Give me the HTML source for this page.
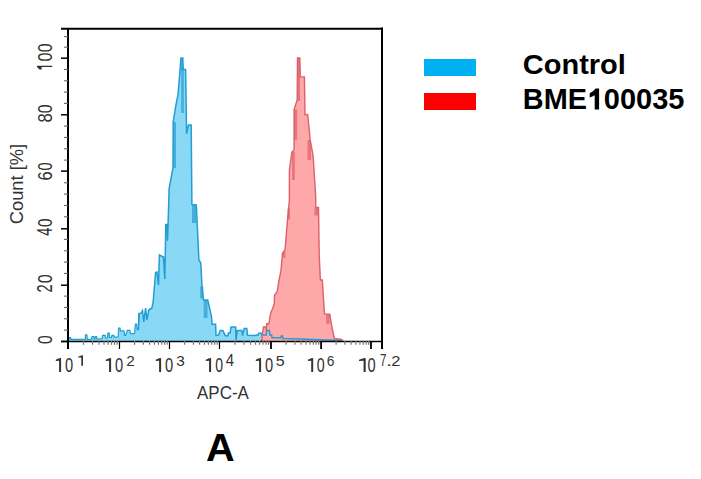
<!DOCTYPE html>
<html><head><meta charset="utf-8"><style>
html,body{margin:0;padding:0;background:#fff;width:701px;height:479px;overflow:hidden;position:relative;font-family:"Liberation Sans",sans-serif}
</style></head><body>
<svg width="701" height="479" viewBox="0 0 701 479" style="position:absolute;left:0;top:0"><rect width="701" height="479" fill="#fff"/><polygon points="68.50,341.00 68.50,339.50 69.20,339.30 69.60,337.70 70.60,337.70 71.00,339.40 85.20,339.40 85.60,334.80 86.90,334.80 87.30,339.30 91.60,339.20 92.00,336.50 93.80,336.50 94.20,339.00 95.00,339.00 95.40,336.50 96.60,336.50 97.00,339.00 102.20,338.50 102.60,335.40 105.20,335.40 105.60,338.00 107.50,338.00 107.90,333.10 109.20,333.10 109.60,337.50 111.50,337.50 111.90,335.40 113.80,335.40 114.20,337.10 118.20,337.00 118.60,328.00 120.00,328.00 120.40,330.80 124.00,330.80 124.60,335.40 125.60,335.40 127.40,330.30 129.80,330.30 130.60,333.70 134.50,333.70 135.40,324.00 136.60,324.00 137.20,329.70 138.40,329.70 139.00,313.50 139.60,313.70 141.30,313.00 142.50,310.60 143.75,322.00 145.60,308.00 146.90,320.00 148.75,310.00 151.90,308.00 153.10,302.50 155.60,272.50 156.90,272.00 158.50,285.00 159.40,255.00 163.50,257.00 164.80,279.00 165.80,224.40 167.00,224.40 167.50,241.00 168.75,202.50 169.10,188.75 170.25,182.50 173.00,168.00 173.20,122.00 175.60,107.00 176.90,100.00 178.00,95.00 181.00,58.00 182.80,58.00 183.20,69.40 185.60,69.40 186.60,133.70 188.50,125.00 191.20,125.00 191.90,204.40 196.30,205.00 198.90,260.00 200.80,263.00 202.00,286.70 203.50,300.00 207.70,300.00 211.50,316.70 212.00,324.30 215.60,324.30 216.00,335.30 218.60,335.00 220.30,330.50 222.80,330.50 224.10,333.10 225.40,335.70 228.00,335.70 228.40,333.10 230.10,333.10 231.00,327.00 235.70,327.00 236.00,340.00 237.40,330.50 241.70,330.50 242.50,335.70 244.20,328.40 246.80,328.40 247.50,335.30 255.00,335.50 256.30,335.00 258.20,335.00 258.60,333.20 261.70,333.20 262.20,335.00 266.30,335.00 266.70,330.50 269.40,330.50 269.80,335.00 271.60,335.00 272.00,337.70 280.80,337.70 281.20,335.90 282.40,335.90 282.80,338.50 300.00,339.00 341.00,340.50 341.00,341.00" fill="#89d9f6"/><polygon points="261.80,341.00 261.80,341.00 262.20,334.00 263.10,329.60 263.50,327.00 265.80,327.00 266.20,330.50 266.70,323.80 268.90,323.80 270.70,312.60 272.50,309.00 274.30,303.60 274.60,295.00 277.20,291.80 278.80,281.30 280.90,270.90 281.90,260.40 282.50,253.10 285.00,250.00 287.50,220.00 289.40,200.00 289.40,170.00 291.90,152.00 294.10,150.00 294.10,109.40 297.20,100.00 297.50,58.00 299.80,58.00 300.30,76.90 304.40,76.90 305.00,114.60 307.70,114.60 310.30,140.70 313.10,155.60 315.60,195.00 315.80,207.50 318.50,207.50 319.20,255.00 320.40,280.00 322.30,280.00 324.20,310.00 324.60,314.10 329.70,314.10 332.50,330.00 334.40,338.50 341.50,339.40 343.00,341.00 343.00,341.00" fill="#ffa8aa"/><polyline points="68.50,339.50 69.20,339.30 69.60,337.70 70.60,337.70 71.00,339.40 85.20,339.40 85.60,334.80 86.90,334.80 87.30,339.30 91.60,339.20 92.00,336.50 93.80,336.50 94.20,339.00 95.00,339.00 95.40,336.50 96.60,336.50 97.00,339.00 102.20,338.50 102.60,335.40 105.20,335.40 105.60,338.00 107.50,338.00 107.90,333.10 109.20,333.10 109.60,337.50 111.50,337.50 111.90,335.40 113.80,335.40 114.20,337.10 118.20,337.00 118.60,328.00 120.00,328.00 120.40,330.80 124.00,330.80 124.60,335.40 125.60,335.40 127.40,330.30 129.80,330.30 130.60,333.70 134.50,333.70 135.40,324.00 136.60,324.00 137.20,329.70 138.40,329.70 139.00,313.50" fill="none" stroke="#239dd2" stroke-width="1.2"/><polyline points="138.40,329.70 139.00,313.50 139.60,313.70 141.30,313.00 142.50,310.60 143.75,322.00 145.60,308.00 146.90,320.00 148.75,310.00 151.90,308.00 153.10,302.50 155.60,272.50 156.90,272.00 158.50,285.00 159.40,255.00 163.50,257.00 164.80,279.00 165.80,224.40 167.00,224.40 167.50,241.00 168.75,202.50 169.10,188.75 170.25,182.50 173.00,168.00 173.20,122.00 175.60,107.00 176.90,100.00 178.00,95.00 181.00,58.00 182.80,58.00 183.20,69.40 185.60,69.40 186.60,133.70 188.50,125.00 191.20,125.00 191.90,204.40 196.30,205.00 198.90,260.00 200.80,263.00 202.00,286.70 203.50,300.00 207.70,300.00 211.50,316.70 212.00,324.30 215.60,324.30 216.00,335.30 218.60,335.00 220.30,330.50 222.80,330.50 224.10,333.10 225.40,335.70 228.00,335.70 228.40,333.10 230.10,333.10 231.00,327.00 235.70,327.00 236.00,340.00 237.40,330.50 241.70,330.50 242.50,335.70 244.20,328.40 246.80,328.40 247.50,335.30 255.00,335.50 256.30,335.00 258.20,335.00 258.60,333.20 261.70,333.20 262.20,335.00 266.30,335.00 266.70,330.50 269.40,330.50 269.80,335.00 271.60,335.00 272.00,337.70 280.80,337.70 281.20,335.90 282.40,335.90 282.80,338.50 300.00,339.00 341.00,340.50" fill="none" stroke="#239dd2" stroke-width="1.5"/><polyline points="261.80,341.00 262.20,334.00 263.10,329.60 263.50,327.00 265.80,327.00 266.20,330.50 266.70,323.80 268.90,323.80 270.70,312.60 272.50,309.00 274.30,303.60 274.60,295.00 277.20,291.80 278.80,281.30 280.90,270.90 281.90,260.40 282.50,253.10 285.00,250.00 287.50,220.00 289.40,200.00 289.40,170.00 291.90,152.00 294.10,150.00 294.10,109.40 297.20,100.00 297.50,58.00 299.80,58.00 300.30,76.90 304.40,76.90 305.00,114.60 307.70,114.60 310.30,140.70 313.10,155.60 315.60,195.00 315.80,207.50 318.50,207.50 319.20,255.00 320.40,280.00 322.30,280.00 324.20,310.00 324.60,314.10 329.70,314.10 332.50,330.00 334.40,338.50 341.50,339.40 343.00,341.00" fill="none" stroke="#dc5f69" stroke-width="1.4"/><rect x="181.2" y="69" width="2.6" height="44" fill="#239dd2" fill-opacity="0.7"/><rect x="173" y="122" width="3" height="46" fill="#239dd2" fill-opacity="0.7"/><rect x="192" y="205" width="4.3" height="18" fill="#239dd2" fill-opacity="0.7"/><rect x="200.2" y="286.7" width="3.2" height="11.7" fill="#239dd2" fill-opacity="0.7"/><rect x="203.7" y="300" width="3.8" height="18" fill="#239dd2" fill-opacity="0.7"/><rect x="180.8" y="58" width="2.2" height="12" fill="#239dd2" fill-opacity="0.7"/><rect x="294.2" y="109.4" width="3" height="30.3" fill="#d95a64" fill-opacity="0.65"/><rect x="292" y="152" width="2.8" height="28" fill="#d95a64" fill-opacity="0.65"/><rect x="307.5" y="140" width="3.5" height="20" fill="#d95a64" fill-opacity="0.65"/><rect x="314.5" y="207.5" width="3.5" height="8" fill="#d95a64" fill-opacity="0.65"/><rect x="326.2" y="314" width="3.4" height="10" fill="#d95a64" fill-opacity="0.65"/><rect x="283" y="252" width="2.5" height="6" fill="#d95a64" fill-opacity="0.65"/><rect x="287.5" y="208.7" width="2.5" height="10.7" fill="#d95a64" fill-opacity="0.65"/><rect x="297.6" y="58" width="2.4" height="43" fill="#d95a64" fill-opacity="0.65"/><g stroke="#000" fill="none"><line x1="61" y1="28.8" x2="383" y2="28.8" stroke-width="2"/><line x1="382" y1="27.5" x2="382" y2="349" stroke-width="2"/><line x1="68" y1="28" x2="68" y2="349" stroke-width="2"/><line x1="61" y1="341.5" x2="382" y2="341.5" stroke-width="1.3"/><line x1="61" y1="341.45" x2="68" y2="341.45" stroke-width="1.5"/><line x1="64" y1="330.12" x2="68" y2="330.12" stroke-width="1.1" stroke="#666"/><line x1="64" y1="318.78" x2="68" y2="318.78" stroke-width="1.1" stroke="#666"/><line x1="64" y1="307.45" x2="68" y2="307.45" stroke-width="1.1" stroke="#666"/><line x1="64" y1="296.11" x2="68" y2="296.11" stroke-width="1.1" stroke="#666"/><line x1="61" y1="285.20" x2="68" y2="285.20" stroke-width="1.5"/><line x1="64" y1="273.45" x2="68" y2="273.45" stroke-width="1.1" stroke="#666"/><line x1="64" y1="262.11" x2="68" y2="262.11" stroke-width="1.1" stroke="#666"/><line x1="64" y1="250.78" x2="68" y2="250.78" stroke-width="1.1" stroke="#666"/><line x1="64" y1="239.44" x2="68" y2="239.44" stroke-width="1.1" stroke="#666"/><line x1="61" y1="228.80" x2="68" y2="228.80" stroke-width="1.5"/><line x1="64" y1="216.78" x2="68" y2="216.78" stroke-width="1.1" stroke="#666"/><line x1="64" y1="205.44" x2="68" y2="205.44" stroke-width="1.1" stroke="#666"/><line x1="64" y1="194.11" x2="68" y2="194.11" stroke-width="1.1" stroke="#666"/><line x1="64" y1="182.77" x2="68" y2="182.77" stroke-width="1.1" stroke="#666"/><line x1="61" y1="171.10" x2="68" y2="171.10" stroke-width="1.5"/><line x1="64" y1="160.11" x2="68" y2="160.11" stroke-width="1.1" stroke="#666"/><line x1="64" y1="148.77" x2="68" y2="148.77" stroke-width="1.1" stroke="#666"/><line x1="64" y1="137.44" x2="68" y2="137.44" stroke-width="1.1" stroke="#666"/><line x1="64" y1="126.10" x2="68" y2="126.10" stroke-width="1.1" stroke="#666"/><line x1="61" y1="114.80" x2="68" y2="114.80" stroke-width="1.5"/><line x1="64" y1="103.44" x2="68" y2="103.44" stroke-width="1.1" stroke="#666"/><line x1="64" y1="92.10" x2="68" y2="92.10" stroke-width="1.1" stroke="#666"/><line x1="64" y1="80.77" x2="68" y2="80.77" stroke-width="1.1" stroke="#666"/><line x1="64" y1="69.43" x2="68" y2="69.43" stroke-width="1.1" stroke="#666"/><line x1="61" y1="58.20" x2="68" y2="58.20" stroke-width="1.5"/><line x1="64" y1="47.20" x2="68" y2="47.20" stroke-width="1.1" stroke="#666"/><line x1="64" y1="36.60" x2="68" y2="36.60" stroke-width="1.1" stroke="#666"/><line x1="68.00" y1="341" x2="68.00" y2="349" stroke-width="2"/><line x1="83.50" y1="341" x2="83.50" y2="344.8" stroke-width="1.2" stroke="#777"/><line x1="92.57" y1="341" x2="92.57" y2="344.8" stroke-width="1.2" stroke="#777"/><line x1="99.01" y1="341" x2="99.01" y2="344.8" stroke-width="1.2" stroke="#777"/><line x1="104.00" y1="341" x2="104.00" y2="344.8" stroke-width="1.2" stroke="#777"/><line x1="108.07" y1="341" x2="108.07" y2="344.8" stroke-width="1.2" stroke="#777"/><line x1="111.52" y1="341" x2="111.52" y2="344.8" stroke-width="1.2" stroke="#777"/><line x1="114.51" y1="341" x2="114.51" y2="344.8" stroke-width="1.2" stroke="#777"/><line x1="117.14" y1="341" x2="117.14" y2="344.8" stroke-width="1.2" stroke="#777"/><line x1="119.50" y1="341" x2="119.50" y2="349" stroke-width="1.2"/><line x1="134.55" y1="341" x2="134.55" y2="344.8" stroke-width="1.2" stroke="#777"/><line x1="143.36" y1="341" x2="143.36" y2="344.8" stroke-width="1.2" stroke="#777"/><line x1="149.60" y1="341" x2="149.60" y2="344.8" stroke-width="1.2" stroke="#777"/><line x1="154.45" y1="341" x2="154.45" y2="344.8" stroke-width="1.2" stroke="#777"/><line x1="158.41" y1="341" x2="158.41" y2="344.8" stroke-width="1.2" stroke="#777"/><line x1="161.75" y1="341" x2="161.75" y2="344.8" stroke-width="1.2" stroke="#777"/><line x1="164.65" y1="341" x2="164.65" y2="344.8" stroke-width="1.2" stroke="#777"/><line x1="167.21" y1="341" x2="167.21" y2="344.8" stroke-width="1.2" stroke="#777"/><line x1="169.50" y1="341" x2="169.50" y2="349" stroke-width="1.2"/><line x1="184.55" y1="341" x2="184.55" y2="344.8" stroke-width="1.2" stroke="#777"/><line x1="193.36" y1="341" x2="193.36" y2="344.8" stroke-width="1.2" stroke="#777"/><line x1="199.60" y1="341" x2="199.60" y2="344.8" stroke-width="1.2" stroke="#777"/><line x1="204.45" y1="341" x2="204.45" y2="344.8" stroke-width="1.2" stroke="#777"/><line x1="208.41" y1="341" x2="208.41" y2="344.8" stroke-width="1.2" stroke="#777"/><line x1="211.75" y1="341" x2="211.75" y2="344.8" stroke-width="1.2" stroke="#777"/><line x1="214.65" y1="341" x2="214.65" y2="344.8" stroke-width="1.2" stroke="#777"/><line x1="217.21" y1="341" x2="217.21" y2="344.8" stroke-width="1.2" stroke="#777"/><line x1="219.50" y1="341" x2="219.50" y2="349" stroke-width="1.2"/><line x1="235.00" y1="341" x2="235.00" y2="344.8" stroke-width="1.2" stroke="#777"/><line x1="244.07" y1="341" x2="244.07" y2="344.8" stroke-width="1.2" stroke="#777"/><line x1="250.51" y1="341" x2="250.51" y2="344.8" stroke-width="1.2" stroke="#777"/><line x1="255.50" y1="341" x2="255.50" y2="344.8" stroke-width="1.2" stroke="#777"/><line x1="259.57" y1="341" x2="259.57" y2="344.8" stroke-width="1.2" stroke="#777"/><line x1="263.02" y1="341" x2="263.02" y2="344.8" stroke-width="1.2" stroke="#777"/><line x1="266.01" y1="341" x2="266.01" y2="344.8" stroke-width="1.2" stroke="#777"/><line x1="268.64" y1="341" x2="268.64" y2="344.8" stroke-width="1.2" stroke="#777"/><line x1="271.00" y1="341" x2="271.00" y2="349" stroke-width="1.8"/><line x1="286.08" y1="341" x2="286.08" y2="344.8" stroke-width="1.2" stroke="#777"/><line x1="294.90" y1="341" x2="294.90" y2="344.8" stroke-width="1.2" stroke="#777"/><line x1="301.16" y1="341" x2="301.16" y2="344.8" stroke-width="1.2" stroke="#777"/><line x1="306.02" y1="341" x2="306.02" y2="344.8" stroke-width="1.2" stroke="#777"/><line x1="309.99" y1="341" x2="309.99" y2="344.8" stroke-width="1.2" stroke="#777"/><line x1="313.34" y1="341" x2="313.34" y2="344.8" stroke-width="1.2" stroke="#777"/><line x1="316.24" y1="341" x2="316.24" y2="344.8" stroke-width="1.2" stroke="#777"/><line x1="318.81" y1="341" x2="318.81" y2="344.8" stroke-width="1.2" stroke="#777"/><line x1="321.10" y1="341" x2="321.10" y2="349" stroke-width="1.8"/><line x1="336.12" y1="341" x2="336.12" y2="344.8" stroke-width="1.2" stroke="#777"/><line x1="344.91" y1="341" x2="344.91" y2="344.8" stroke-width="1.2" stroke="#777"/><line x1="351.14" y1="341" x2="351.14" y2="344.8" stroke-width="1.2" stroke="#777"/><line x1="355.98" y1="341" x2="355.98" y2="344.8" stroke-width="1.2" stroke="#777"/><line x1="359.93" y1="341" x2="359.93" y2="344.8" stroke-width="1.2" stroke="#777"/><line x1="363.27" y1="341" x2="363.27" y2="344.8" stroke-width="1.2" stroke="#777"/><line x1="366.16" y1="341" x2="366.16" y2="344.8" stroke-width="1.2" stroke="#777"/><line x1="368.72" y1="341" x2="368.72" y2="344.8" stroke-width="1.2" stroke="#777"/><line x1="371.00" y1="341" x2="371.00" y2="349" stroke-width="1.8"/></g><path d="M61.10,357.90 L61.10,371.90 L59.10,371.90 L59.10,360.70 L55.80,360.98 L55.80,359.72 L59.10,358.18 Z" fill="#333333"/><text transform="matrix(0.14660 0 0 0.20212 64.914 371.898)" font-family="Liberation Sans" font-weight="normal" font-size="100" fill="#333333" >0</text><path d="M83.00,355.30 L83.00,365.80 L81.30,365.80 L81.30,357.40 L78.00,357.61 L78.00,356.67 L81.30,355.51 Z" fill="#333333"/><path d="M111.10,357.90 L111.10,371.90 L109.10,371.90 L109.10,360.70 L105.80,360.98 L105.80,359.72 L109.10,358.18 Z" fill="#333333"/><text transform="matrix(0.14660 0 0 0.20212 114.914 371.898)" font-family="Liberation Sans" font-weight="normal" font-size="100" fill="#333333" >0</text><text transform="matrix(0.15385 0 0 0.15484 126.131 365.800)" font-family="Liberation Sans" font-weight="normal" font-size="100" fill="#333333" >2</text><path d="M161.10,357.90 L161.10,371.90 L159.10,371.90 L159.10,360.70 L155.80,360.98 L155.80,359.72 L159.10,358.18 Z" fill="#333333"/><text transform="matrix(0.14660 0 0 0.20212 164.914 371.898)" font-family="Liberation Sans" font-weight="normal" font-size="100" fill="#333333" >0</text><text transform="matrix(0.15368 0 0 0.15265 176.324 365.647)" font-family="Liberation Sans" font-weight="normal" font-size="100" fill="#333333" >3</text><path d="M211.10,357.90 L211.10,371.90 L209.10,371.90 L209.10,360.70 L205.80,360.98 L205.80,359.72 L209.10,358.18 Z" fill="#333333"/><text transform="matrix(0.14031 0 0 0.20212 215.239 371.898)" font-family="Liberation Sans" font-weight="normal" font-size="100" fill="#333333" >0</text><text transform="matrix(0.15050 0 0 0.15709 225.661 365.800)" font-family="Liberation Sans" font-weight="normal" font-size="100" fill="#333333" >4</text><path d="M261.10,357.90 L261.10,371.90 L259.10,371.90 L259.10,360.70 L255.80,360.98 L255.80,359.72 L259.10,358.18 Z" fill="#333333"/><text transform="matrix(0.14660 0 0 0.20212 264.914 371.898)" font-family="Liberation Sans" font-weight="normal" font-size="100" fill="#333333" >0</text><text transform="matrix(0.16000 0 0 0.15484 275.660 365.645)" font-family="Liberation Sans" font-weight="normal" font-size="100" fill="#333333" >5</text><path d="M313.20,357.90 L313.20,371.90 L311.20,371.90 L311.20,360.70 L307.90,360.98 L307.90,359.72 L311.20,358.18 Z" fill="#333333"/><text transform="matrix(0.14241 0 0 0.20212 316.730 371.898)" font-family="Liberation Sans" font-weight="normal" font-size="100" fill="#333333" >0</text><text transform="matrix(0.13838 0 0 0.15265 326.808 365.647)" font-family="Liberation Sans" font-weight="normal" font-size="100" fill="#333333" >6</text><path d="M365.70,357.90 L365.70,371.90 L363.60,371.90 L363.60,360.70 L359.00,360.98 L359.00,359.72 L363.60,358.18 Z" fill="#333333"/><text transform="matrix(0.14660 0 0 0.20212 367.414 371.898)" font-family="Liberation Sans" font-weight="normal" font-size="100" fill="#333333" >0</text><text transform="matrix(0.11429 0 0 0.15709 380.029 365.800)" font-family="Liberation Sans" font-weight="normal" font-size="100" fill="#333333" >7</text><text transform="matrix(0.22564 0 0 0.14884 385.969 365.800)" font-family="Liberation Sans" font-weight="normal" font-size="100" fill="#333333" >.</text><text transform="matrix(0.16484 0 0 0.15484 391.176 365.800)" font-family="Liberation Sans" font-weight="normal" font-size="100" fill="#333333" >2</text><text transform="matrix(0 -0.15707 0.21060 0 51.889 343.928)" font-family="Liberation Sans" font-size="100" fill="#333333">0</text><text transform="matrix(0 -0.14725 0.21362 0 52.100 292.436)" font-family="Liberation Sans" font-size="100" fill="#333333">2</text><text transform="matrix(0 -0.16126 0.21060 0 51.889 283.345)" font-family="Liberation Sans" font-size="100" fill="#333333">0</text><text transform="matrix(0 -0.14653 0.21673 0 52.100 235.730)" font-family="Liberation Sans" font-size="100" fill="#333333">4</text><text transform="matrix(0 -0.15497 0.21060 0 51.889 227.020)" font-family="Liberation Sans" font-size="100" fill="#333333">0</text><text transform="matrix(0 -0.16432 0.21060 0 51.889 180.522)" font-family="Liberation Sans" font-size="100" fill="#333333">6</text><text transform="matrix(0 -0.14660 0.21060 0 51.889 170.486)" font-family="Liberation Sans" font-size="100" fill="#333333">0</text><text transform="matrix(0 -0.16809 0.21060 0 51.889 122.414)" font-family="Liberation Sans" font-size="100" fill="#333333">8</text><text transform="matrix(0 -0.15916 0.21060 0 51.889 113.137)" font-family="Liberation Sans" font-size="100" fill="#333333">0</text><path d="M37,65.8 L52.2,65.8 L52.2,67.1 L41.5,67.1 L41.8,69.6 L39.5,69.6 L37,67 Z" fill="#333333"/><text transform="matrix(0 -0.16126 0.21060 0 51.889 61.445)" font-family="Liberation Sans" font-size="100" fill="#333333">0</text><text transform="matrix(0 -0.15916 0.21060 0 51.889 52.237)" font-family="Liberation Sans" font-size="100" fill="#333333">0</text><text transform="matrix(0 -0.18290 0.19088 0 23.039 224.215)" font-family="Liberation Sans" font-size="100" fill="#333333">Count [%]</text><text transform="matrix(0.16970 0 0 0.18799 197.058 399.112)" font-family="Liberation Sans" font-weight="normal" font-size="100" fill="#333333" >APC-A</text><rect x="424" y="59" width="52" height="17" fill="#00b0f0"/><rect x="424" y="93" width="52" height="17" fill="#ff0000"/><text transform="matrix(0.28999 0 0 0.28435 522.840 74.416)" font-family="Liberation Sans" font-weight="bold" font-size="100" fill="#000" >Control</text><text transform="matrix(0.28889 0 0 0.30255 522.850 109.400)" font-family="Liberation Sans" font-weight="bold" font-size="100" fill="#000" >BME</text><path d="M599.1,88.6 L599.1,109.4 L594.7,109.4 L594.7,95.3 Q592.5,96.8 589.7,97.6 L589.7,93.3 Q593.6,91.6 595.6,88.6 Z" fill="#000"/><text transform="matrix(0.28977 0 0 0.30141 603.841 109.323)" font-family="Liberation Sans" font-weight="bold" font-size="100" fill="#000" >00035</text><text transform="matrix(0.39701 0 0 0.39418 206.107 460.700)" font-family="Liberation Sans" font-weight="bold" font-size="100" fill="#000" >A</text></svg>
</body></html>
